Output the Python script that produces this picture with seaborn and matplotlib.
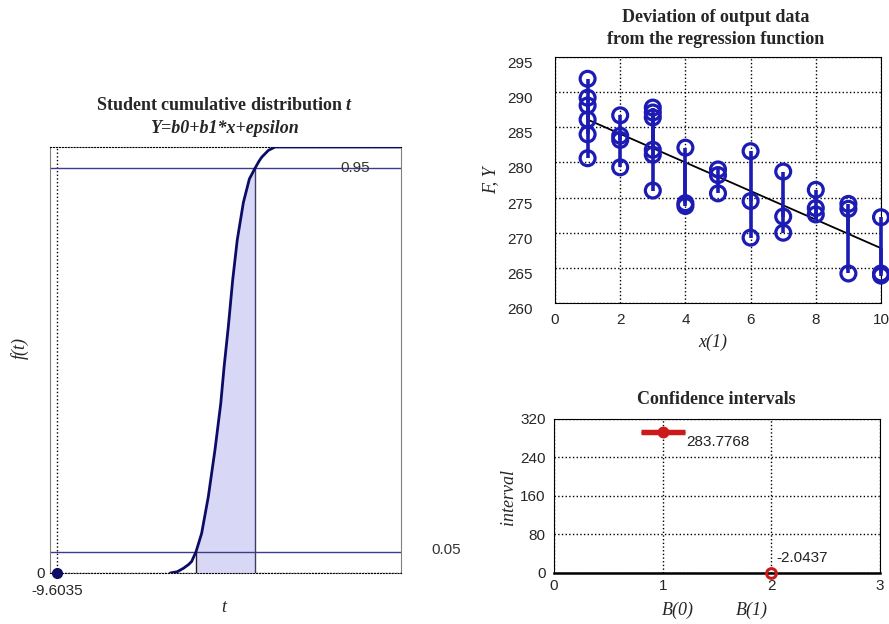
import numpy as np
import pandas as pd
import matplotlib
matplotlib.use("Agg")
import matplotlib.pyplot as plt
import seaborn as sns

# ---- left panel: Student cumulative distribution
t_vals = [-3.15, -2.75, -2.40, -2.10, -1.93, -1.68, -1.36, -0.98, -0.60, -0.27, -0.08,
          0.16, 0.41, 0.67, 1.02, 1.36, 1.68, 1.90, 2.06, 2.44, 2.82, 10.0]
cdf_vals = [0.0, 0.003, 0.011, 0.020, 0.027, 0.05, 0.093, 0.179, 0.289, 0.398, 0.484,
            0.578, 0.688, 0.782, 0.870, 0.925, 0.95, 0.966, 0.976, 0.992, 1.0, 1.0]
t_lo, t_hi = -1.68, 1.68
p_lo, p_hi = 0.05, 0.95
t_start = -9.6035

# ---- top right: observations per x and regression line
obs = {
    1: [291.9, 289.2, 288.1, 286.1, 284.0, 280.6],
    2: [286.7, 283.8, 283.2, 279.3],
    3: [287.8, 287.1, 286.4, 281.8, 281.1, 276.0],
    4: [282.1, 274.2, 273.8],
    5: [279.0, 278.2, 275.6],
    6: [281.6, 274.5, 269.3],
    7: [278.7, 272.3, 270.0],
    8: [276.1, 273.5, 272.6],
    9: [274.1, 273.4, 264.2],
    10: [272.2, 264.2, 263.9],
}
b0_fit, b1_fit = 288.13, -2.033

# ---- bottom right: confidence intervals
ci_x = [1, 2]
ci_y = [292.8, -2.0]
ci_err = 1.5
ci_labels = ["283.7768", "-2.0437"]

navy = "#0c0c66"
blue = "#1c1cb4"
red = "#cc1a1a"
shade = "#d8d8f6"

sns.set_style("white")
plt.rcParams["font.family"] = ["Liberation Sans", "DejaVu Sans"]
plt.rcParams["mathtext.fontset"] = "custom"
plt.rcParams["mathtext.bfit"] = "Liberation Serif:bold:italic"
plt.rcParams["mathtext.it"] = "Liberation Serif:italic"
plt.rcParams["mathtext.rm"] = "Liberation Serif"
plt.rcParams["xtick.direction"] = "in"
plt.rcParams["ytick.direction"] = "in"

W, H = 889, 624
fig = plt.figure(figsize=(W / 100, H / 100), dpi=100)


def box(x0, y0, x1, y1):
    return [x0 / W, 1 - y1 / H, (x1 - x0) / W, (y1 - y0) / H]


serif = "Liberation Serif"
tick_fs = 11
title_fs = 13
lab_fs = 13

# ================= left =================
ax1 = fig.add_axes(box(50, 147, 401, 573))
cdf = pd.DataFrame({"t": t_vals, "p": cdf_vals})
band = cdf[(cdf.t >= t_lo) & (cdf.t <= t_hi)]
ax1.fill_between(band.t, 0, band.p, color=shade, lw=0, zorder=1)
ax1.axhline(p_hi, color="#3c3c8a", lw=1, zorder=2)
ax1.axhline(p_lo, color="#3c3c8a", lw=1, zorder=2)
ax1.vlines([t_lo], 0, p_lo, color="#222222", lw=1, zorder=2)
ax1.vlines([t_hi], 0, p_hi, color="#3c3c66", lw=1, zorder=2)
sns.lineplot(data=cdf, x="t", y="p", ax=ax1, color=navy, lw=2, zorder=3,
             estimator=None, sort=False)
ax1.plot([t_start], [0], "o", color=navy, ms=7, clip_on=False, zorder=6)
ax1.set_xlim(-10, 10)
ax1.set_ylim(0, 1)
ax1.set_xticks([t_start], ["-9.6035"])
ax1.set_yticks([0], ["0"])
ax1.tick_params(axis="x", length=0, labelsize=tick_fs, pad=8)
ax1.tick_params(axis="y", length=0, labelsize=tick_fs, pad=4)
ax1.grid(True, linestyle=":", color="black", lw=1)
for s in ["left", "right"]:
    ax1.spines[s].set_color("#808080")
for s in ["top", "bottom"]:
    ax1.spines[s].set_color("black")
    ax1.spines[s].set_linestyle(":")
ax1.set_xlabel("")
ax1.set_ylabel("")
ax1.text(7.4, p_hi, "0.95", ha="center", va="center", fontsize=11, color="#333333")
ax1.text(12.6, p_lo + 0.003, "0.05", ha="center", va="center", fontsize=11,
         color="#333333", clip_on=False)

fig.text(224 / W, 1 - 106 / H, r"Student cumulative distribution $\mathbfit{t}$",
         ha="center", va="center", fontsize=title_fs, fontweight="bold", family=serif)
fig.text(224 / W, 1 - 129 / H, "Y=b0+b1*x+epsilon", ha="center", va="center",
         fontsize=title_fs, fontweight="bold", fontstyle="italic", family=serif)
fig.text(224 / W, 1 - 607 / H, "t", ha="center", va="center", fontsize=lab_fs,
         fontstyle="italic", family=serif)
fig.text(20 / W, 1 - 348 / H, "f(t)", ha="center", va="center", fontsize=lab_fs,
         fontstyle="italic", family=serif, rotation=90)

# ================= top right =================
ax2 = fig.add_axes(box(555, 57, 881, 303))
rows = [(x, y) for x, ys in obs.items() for y in ys]
pts = pd.DataFrame(rows, columns=["x", "y"])
pts["fit"] = b0_fit + b1_fit * pts["x"]
xs = np.array(sorted(obs))
line = pd.DataFrame({"x": [xs.min(), xs.max()]})
line["y"] = b0_fit + b1_fit * line["x"]
sns.lineplot(data=line, x="x", y="y", ax=ax2, color="black", lw=1.3, zorder=2)
ax2.vlines(pts.x, pts.fit, pts.y, color=blue, lw=2.6, zorder=3, clip_on=False)
sns.scatterplot(data=pts, x="x", y="y", ax=ax2, marker="o", s=115,
                facecolor="none", edgecolor=blue, linewidth=2.3, zorder=4,
                clip_on=False)
ax2.set_xlim(0, 10)
ax2.set_ylim(260, 295)
ax2.set_xticks(range(0, 11, 2))
ax2.set_yticks(range(260, 296, 5))
ax2.tick_params(axis="x", length=3, labelsize=tick_fs, pad=7)
ax2.tick_params(axis="y", length=3, labelsize=tick_fs, pad=16)
for lbl in ax2.get_yticklabels():
    lbl.set_verticalalignment("top")
ax2.grid(True, linestyle=":", color="black", lw=1)
for s in ax2.spines.values():
    s.set_color("black")
ax2.set_xlabel("")
ax2.set_ylabel("")
fig.text(716 / W, 1 - 17 / H, "Deviation of output data", ha="center", va="center",
         fontsize=title_fs, fontweight="bold", family=serif)
fig.text(716 / W, 1 - 39 / H, "from the regression function", ha="center",
         va="center", fontsize=title_fs, fontweight="bold", family=serif)
fig.text(713 / W, 1 - 342 / H, "x(1)", ha="center", va="center", fontsize=lab_fs,
         fontstyle="italic", family=serif)
fig.text(491 / W, 1 - 180 / H, "F, Y", ha="center", va="center", fontsize=lab_fs,
         fontstyle="italic", family=serif, rotation=90)

# ================= bottom right =================
ax3 = fig.add_axes(box(554, 419, 880, 572.5))
ax3.errorbar(ci_x[:1], ci_y[:1], yerr=ci_err, fmt="o", color=red, ms=6,
             mfc="none", mew=2.5, elinewidth=2.5, capsize=16, capthick=3,
             zorder=4)
ax3.plot(ci_x[1:], ci_y[1:], "o", color=red, ms=7, mfc="none", mew=2.2,
         clip_on=False, zorder=4)
ax3.text(1.22, 272.5, ci_labels[0], ha="left", va="center", fontsize=11, color="#222222")
ax3.text(2.05, 30, ci_labels[1], ha="left", va="center", fontsize=11, color="#222222")
ax3.set_xlim(0, 3)
ax3.set_ylim(0, 320)
ax3.set_xticks(range(0, 4))
ax3.set_yticks(range(0, 321, 80))
ax3.tick_params(axis="x", length=3, labelsize=tick_fs, pad=5)
ax3.tick_params(axis="y", length=3, labelsize=tick_fs, pad=6)
ax3.grid(True, linestyle=":", color="black", lw=1)
for s in ax3.spines.values():
    s.set_color("black")
ax3.spines["bottom"].set_linewidth(1.8)
fig.text(716 / W, 1 - 400 / H, "Confidence intervals", ha="center", va="center",
         fontsize=title_fs, fontweight="bold", family=serif)
fig.text(678 / W, 1 - 610 / H, "B(0)", ha="center", va="center", fontsize=lab_fs,
         fontstyle="italic", family=serif)
fig.text(752 / W, 1 - 610 / H, "B(1)", ha="center", va="center", fontsize=lab_fs,
         fontstyle="italic", family=serif)
fig.text(508 / W, 1 - 497 / H, "interval", ha="center", va="center", fontsize=lab_fs,
         fontstyle="italic", family=serif, rotation=90)

fig.savefig("out.png", dpi=100)
